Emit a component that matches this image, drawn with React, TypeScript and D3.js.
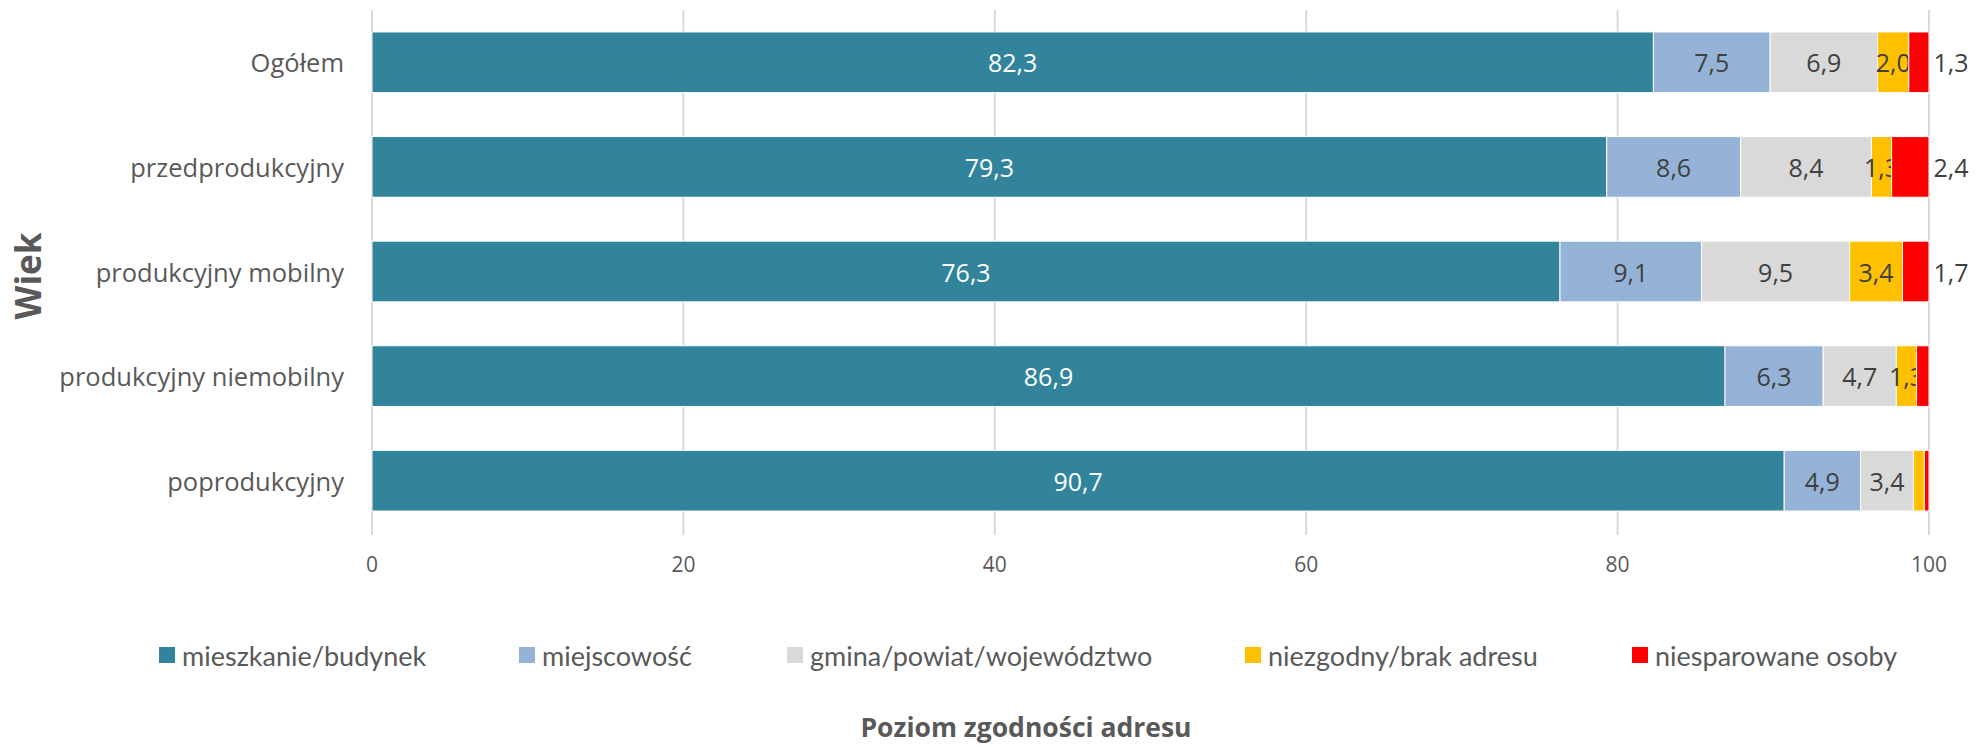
import React, { useEffect, useRef } from 'react';
import * as d3 from 'd3';

const categories = ['Ogółem', 'przedprodukcyjny', 'produkcyjny mobilny', 'produkcyjny niemobilny', 'poprodukcyjny'];
const seriesNames = ['mieszkanie/budynek', 'miejscowość', 'gmina/powiat/województwo', 'niezgodny/brak adresu', 'niesparowane osoby'];
const seriesColors = ['#31849B', '#95B3D7', '#D9D9D9', '#FFC000', '#FF0000'];

const mieszkanie = [82.3, 79.3, 76.3, 86.9, 90.7];
const miejscowosc = [7.5, 8.6, 9.1, 6.3, 4.9];
const gmina = [6.9, 8.4, 9.5, 4.7, 3.4];
const niezgodny = [2.0, 1.3, 3.4, 1.3, 0.7];
const niesparowane = [1.3, 2.4, 1.7, 0.8, 0.3];

const xTicks = [0, 20, 40, 60, 80, 100];

const W = 1977;
const H = 747;

const App = () => {
  const ref = useRef<SVGSVGElement>(null);

  useEffect(() => {
    const svg = d3.select(ref.current);
    svg.selectAll('*').remove();

    const series = [mieszkanie, miejscowosc, gmina, niezgodny, niesparowane];
    const rows = categories.map((c, i) => {
      const r: any = { cat: c };
      seriesNames.forEach((s, j) => (r[s] = series[j][i]));
      return r;
    });
    const stacked = d3.stack().keys(seriesNames)(rows);

    const x = d3.scaleLinear().domain([0, 100]).range([372, 1929]);
    const y = d3.scaleBand().domain(categories).range([10, 533]).paddingInner(0.42).paddingOuter(0.21);
    const fmt = (v: number) => d3.format('.1f')(v).replace('.', ',');
    const grey = '#595959';

    // gridlines
    svg.append('g')
      .selectAll('line')
      .data(xTicks)
      .join('line')
      .attr('x1', d => x(d))
      .attr('x2', d => x(d))
      .attr('y1', 10)
      .attr('y2', 535)
      .attr('stroke', '#D9D9D9')
      .attr('stroke-width', 2);

    // tick labels
    svg.append('g')
      .selectAll('text')
      .data(xTicks)
      .join('text')
      .attr('x', d => x(d))
      .attr('y', 564)
      .attr('text-anchor', 'middle')
      .attr('dominant-baseline', 'central')
      .attr('font-family', 'Open Sans')
      .attr('font-size', 21)
      .attr('fill', grey)
      .text(d => d);

    // bars
    const layers = svg.append('g')
      .selectAll('g')
      .data(stacked)
      .join('g')
      .attr('fill', (_d, i) => seriesColors[i]);

    layers.selectAll('rect')
      .data(d => d)
      .join('rect')
      .attr('x', d => x(d[0]))
      .attr('width', d => x(d[1]) - x(d[0]))
      .attr('y', (d: any) => y(d.data.cat)!)
      .attr('height', y.bandwidth())
      .attr('stroke', '#fff')
      .attr('stroke-width', 1);

    // data labels
    layers.each(function (layer, li) {
      d3.select(this)
        .selectAll('text')
        .data(layer.filter(d => d[1] - d[0] >= 1))
        .join('text')
        .attr('x', d => (li === 4 ? x(100) + 22 : x((d[0] + d[1]) / 2)))
        .attr('y', (d: any) => y(d.data.cat)! + y.bandwidth() / 2)
        .attr('text-anchor', 'middle')
        .attr('dominant-baseline', 'central')
        .attr('font-family', 'Open Sans')
        .attr('font-size', 25)
        .attr('fill', li === 0 ? '#fff' : '#404040')
        .text(d => fmt(d[1] - d[0]));
    });

    // category labels
    svg.append('g')
      .selectAll('text')
      .data(categories)
      .join('text')
      .attr('x', 344)
      .attr('y', d => y(d)! + y.bandwidth() / 2)
      .attr('text-anchor', 'end')
      .attr('dominant-baseline', 'central')
      .attr('font-family', 'Open Sans')
      .attr('font-size', 25.5)
      .attr('fill', grey)
      .text(d => d);

    // y axis title
    svg.append('text')
      .attr('transform', 'translate(41,276) rotate(-90)')
      .attr('text-anchor', 'middle')
      .attr('font-family', 'Open Sans')
      .attr('font-weight', 'bold')
      .attr('font-size', 35)
      .attr('fill', grey)
      .text('Wiek');

    // legend
    const legendX = [159, 519, 787, 1245, 1632];
    const lg = svg.append('g')
      .selectAll('g')
      .data(seriesNames)
      .join('g')
      .attr('transform', (_d, i) => `translate(${legendX[i]},647)`);
    lg.append('rect')
      .attr('width', 16)
      .attr('height', 16)
      .attr('fill', (_d, i) => seriesColors[i]);
    lg.append('text')
      .attr('x', 23)
      .attr('y', 8)
      .attr('dominant-baseline', 'central')
      .attr('font-family', 'Lato')
      .attr('font-size', 27)
      .attr('fill', grey)
      .text(d => d);

    // x axis title
    svg.append('text')
      .attr('x', 1026)
      .attr('y', 737)
      .attr('text-anchor', 'middle')
      .attr('font-family', 'Open Sans')
      .attr('font-weight', 'bold')
      .attr('font-size', 26.5)
      .attr('fill', grey)
      .text('Poziom zgodności adresu');
  }, []);

  return (
    <svg
      ref={ref}
      width={W}
      height={H}
      style={{ position: 'absolute', left: 0, top: 0, background: '#fff' }}
    />
  );
};

export default App;
